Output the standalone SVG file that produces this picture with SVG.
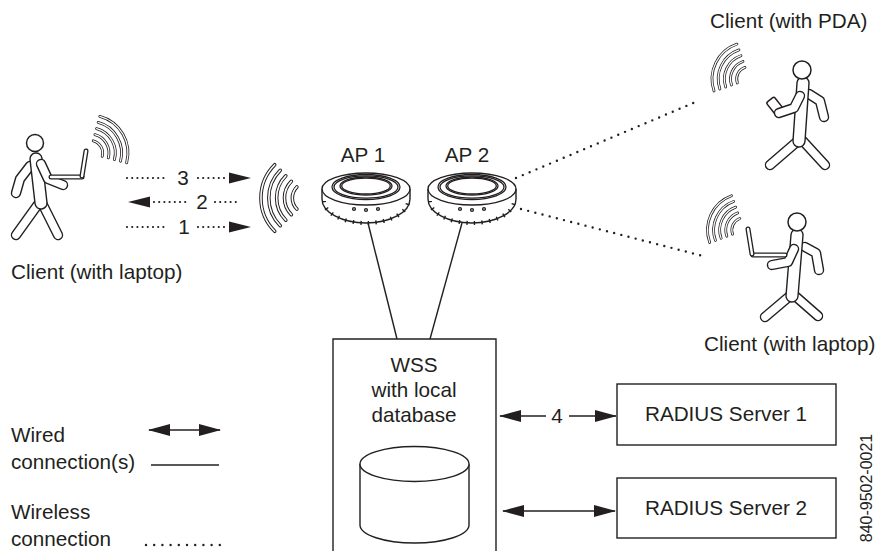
<svg xmlns="http://www.w3.org/2000/svg" xmlns:xlink="http://www.w3.org/1999/xlink" width="876" height="551" viewBox="0 0 876 551">
  <style>
    text { font-family: "Liberation Sans", Arial, Helvetica, sans-serif; font-size: 20.7px; fill: #231f20; }
    .mid { text-anchor: middle; }
    .line { stroke: #231f20; stroke-width: 1.4; fill: none; }
    .box { stroke: #231f20; stroke-width: 1.4; fill: #fff; }
    .dots { stroke: #231f20; stroke-width: 2.2; stroke-linecap: round; fill: none; stroke-dasharray: 0 5.2; }
    .wdots { stroke: #231f20; stroke-width: 2.4; stroke-linecap: round; fill: none; stroke-dasharray: 0 7.4; }
    .head { fill: #231f20; }
    .o { stroke: #231f20; stroke-width: 10.4; fill: none; stroke-linecap: round; stroke-linejoin: round; }
    .i { stroke: #fff; stroke-width: 7.6; fill: none; stroke-linecap: round; stroke-linejoin: round; }
    .ot { stroke: #231f20; stroke-width: 13.4; fill: none; stroke-linecap: round; stroke-linejoin: round; }
    .it { stroke: #fff; stroke-width: 10.6; fill: none; stroke-linecap: round; stroke-linejoin: round; }
    .ok { stroke: #231f20; stroke-width: 5; fill: none; stroke-linecap: round; }
    .ik { stroke: #fff; stroke-width: 2.4; fill: none; stroke-linecap: round; }
    .skull { fill: #fff; stroke: #231f20; stroke-width: 1.5; }
    .wave-o { stroke: #231f20; stroke-width: 3.6; fill: none; stroke-linecap: round; }
    .wave-i { stroke: #fff; stroke-width: 1.6; fill: none; stroke-linecap: round; }
    .ap { fill: #fff; stroke: #231f20; stroke-width: 1.4; }
    .apl { fill: none; stroke: #231f20; stroke-width: 1.3; }
  </style>
  <defs>
    <marker id="head" viewBox="0 0 22 12" refX="21" refY="6" markerWidth="22" markerHeight="12" markerUnits="userSpaceOnUse" orient="auto-start-reverse">
      <path class="head" d="M0,0 L22,6 L0,12 Z"/>
    </marker>
    <!-- radio waves: five banded arcs opening to the right of the origin -->
    <g id="waves">
      <g class="wave-o">
        <path d="M11.31,-11.31 A16,16 0 0 1 11.31,11.31"/>
        <path d="M16.97,-16.97 A24,24 0 0 1 16.97,16.97"/>
        <path d="M22.63,-22.63 A32,32 0 0 1 22.63,22.63"/>
        <path d="M28.28,-28.28 A40,40 0 0 1 28.28,28.28"/>
        <path d="M33.94,-33.94 A48,48 0 0 1 33.94,33.94"/>
      </g>
      <g class="wave-i">
        <path d="M11.31,-11.31 A16,16 0 0 1 11.31,11.31"/>
        <path d="M16.97,-16.97 A24,24 0 0 1 16.97,16.97"/>
        <path d="M22.63,-22.63 A32,32 0 0 1 22.63,22.63"/>
        <path d="M28.28,-28.28 A40,40 0 0 1 28.28,28.28"/>
        <path d="M33.94,-33.94 A48,48 0 0 1 33.94,33.94"/>
      </g>
    </g>
    <!-- ceiling access point puck -->
    <g id="ap-puck">
      <path class="ap" d="M-44,0 A44,16 0 0 1 44,0 L44,10 A44,24 0 0 1 -44,10 Z"/>
      <path class="apl" d="M-44,0 A44,16 0 0 0 44,0"/>
      <path d="M-42,12 A42,22 0 0 0 42,12" fill="none" stroke="#231f20" stroke-width="4" stroke-dasharray="1.4 6.2"/>
      <ellipse class="apl" cx="0" cy="-2" rx="34" ry="12.5"/>
      <ellipse class="apl" cx="0" cy="-2" rx="32" ry="11.2"/>
      <ellipse class="apl" cx="0" cy="-3" rx="26" ry="9"/>
      <ellipse class="apl" cx="0" cy="-3" rx="24.3" ry="7.9"/>
      <circle class="ap" cx="-12" cy="20" r="1.4" stroke-width="1"/>
      <circle class="ap" cx="0" cy="21" r="1.4" stroke-width="1"/>
      <circle class="ap" cx="12" cy="20" r="1.4" stroke-width="1"/>
    </g>
  </defs>

  <rect width="876" height="551" fill="#fff"/>

  <!-- connectors -->
  <g id="connectors">
    <!-- wired uplinks from the access points -->
    <path class="line" d="M368,223 L397,339"/>
    <path class="line" d="M462,223 L430,339"/>
    <!-- wireless links from AP 2 -->
    <path class="wdots" d="M516,178 L698,101"/>
    <path class="wdots" d="M521,209 L703,256"/>
    <!-- association exchange 1-3 -->
    <path class="dots" d="M127,178 L168,178"/>
    <path class="dots" d="M198,178 L225,178"/>
    <path class="head" d="M229,172.5 L251,178 L229,183.5 Z"/>
    <text class="mid" x="183" y="185">3</text>
    <path class="head" d="M150,196.5 L128,202 L150,207.5 Z"/>
    <path class="dots" d="M154,202 L190,202"/>
    <path class="dots" d="M215,202 L238,202"/>
    <text class="mid" x="202" y="209">2</text>
    <path class="dots" d="M127,227 L168,227"/>
    <path class="dots" d="M198,227 L225,227"/>
    <path class="head" d="M229,221.5 L251,227 L229,232.5 Z"/>
    <text class="mid" x="184" y="234">1</text>
    <!-- WSS to RADIUS servers -->
    <path class="line" d="M500,416 L546,416" marker-start="url(#head)"/>
    <path class="line" d="M569,416 L616,416" marker-end="url(#head)"/>
    <text class="mid" x="557" y="423">4</text>
    <path class="line" d="M503,511 L615,511" marker-start="url(#head)" marker-end="url(#head)"/>
  </g>

  <!-- client with laptop (left) -->
  <g id="client-left">
    <use xlink:href="#waves" transform="translate(90,153) rotate(-30) scale(0.79)"/>
    <path class="o" d="M30,166 L20,179 L16,193"/><path class="i" d="M30,166 L20,179 L16,193"/>
    <path class="o" d="M42,203 L58,235"/><path class="i" d="M42,203 L58,235"/>
    <path class="o" d="M39,203 L16,235"/><path class="i" d="M39,203 L16,235"/>
    <path class="ot" d="M36,159 L41,203"/><path class="it" d="M36,159 L41,203"/>
    <circle class="skull" cx="35" cy="143" r="8.5"/>
    <path class="o" d="M41,164 L48,179 L63,185"/><path class="i" d="M41,164 L48,179 L63,185"/>
    <path class="ok" d="M51,177 L82,177"/><path class="ik" d="M51,177 L82,177"/>
    <path class="ok" d="M82,176 L86,151"/><path class="ik" d="M82,176 L86,151"/>
    <text x="11" y="279">Client (with laptop)</text>
  </g>

  <!-- radio waves in front of AP 1 -->
  <g id="ap-waves">
    <use xlink:href="#waves" transform="translate(308,198) rotate(180) scale(0.98)"/>
  </g>

  <!-- access points -->
  <g id="ap1">
    <use xlink:href="#ap-puck" transform="translate(366,189)"/>
    <text class="mid" x="363" y="162">AP 1</text>
  </g>
  <g id="ap2">
    <use xlink:href="#ap-puck" transform="translate(472,189)"/>
    <text class="mid" x="467" y="162">AP 2</text>
  </g>

  <!-- client with PDA (top right) -->
  <g id="client-pda">
    <use xlink:href="#waves" transform="translate(749,79) rotate(-154) scale(0.77)"/>
    <path class="o" d="M809,94 L820,101 L824,117"/><path class="i" d="M809,94 L820,101 L824,117"/>
    <path class="o" d="M802,140 L825,165"/><path class="i" d="M802,140 L825,165"/>
    <path class="o" d="M799,140 L770,165"/><path class="i" d="M799,140 L770,165"/>
    <path class="ot" d="M803,83 L799,141"/><path class="it" d="M803,83 L799,141"/>
    <circle class="skull" cx="802" cy="70" r="9"/>
    <rect class="skull" x="-5" y="-8" width="10" height="16" rx="2" transform="translate(775,106) rotate(-38)"/>
    <path class="o" d="M800,96 L794,108 L779,113"/><path class="i" d="M800,96 L794,108 L779,113"/>
    <text x="710" y="28">Client (with PDA)</text>
  </g>

  <!-- client with laptop (right) -->
  <g id="client-right">
    <use xlink:href="#waves" transform="translate(744,230) rotate(-155) scale(0.76)"/>
    <path class="o" d="M805,247 L816,253 L819,270"/><path class="i" d="M805,247 L816,253 L819,270"/>
    <path class="o" d="M794,295 L818,316"/><path class="i" d="M794,295 L818,316"/>
    <path class="o" d="M791,295 L765,317"/><path class="i" d="M791,295 L765,317"/>
    <path class="ot" d="M797,235 L792,296"/><path class="it" d="M797,235 L792,296"/>
    <circle class="skull" cx="797" cy="222" r="9"/>
    <path class="o" d="M794,249 L788,262 L772,265"/><path class="i" d="M794,249 L788,262 L772,265"/>
    <path class="ok" d="M753,255 L785,255"/><path class="ik" d="M753,255 L785,255"/>
    <path class="ok" d="M752,254 L748,229"/><path class="ik" d="M752,254 L748,229"/>
    <text x="704" y="351">Client (with laptop)</text>
  </g>

  <!-- wireless switch with local database -->
  <g id="wss">
    <path class="line" d="M333,553 L333,339 L496,339 L496,553"/>
    <text class="mid" x="414" y="372">WSS</text>
    <text class="mid" x="414" y="397">with local</text>
    <text class="mid" x="414" y="422">database</text>
    <path class="box" d="M360,464 L360,525 A54.5,18 0 0 0 469,525 L469,464"/>
    <ellipse class="box" cx="414.5" cy="464" rx="54.5" ry="17.5"/>
  </g>

  <g id="radius1">
    <rect class="box" x="617" y="384" width="219" height="61"/>
    <text class="mid" x="726" y="421">RADIUS Server 1</text>
  </g>
  <g id="radius2">
    <rect class="box" x="617" y="478" width="219" height="60"/>
    <text class="mid" x="726" y="515">RADIUS Server 2</text>
  </g>

  <!-- legend -->
  <g id="legend">
    <text x="11" y="442">Wired</text>
    <text x="11" y="469">connection(s)</text>
    <text x="11" y="519">Wireless</text>
    <text x="11" y="546">connection</text>
    <path class="line" d="M149,430 L220,430" marker-start="url(#head)" marker-end="url(#head)"/>
    <path class="line" d="M151,465 L219,465" stroke="#555"/>
    <path class="wdots" d="M146,545 L220,545" stroke-width="2" style="stroke-dasharray:0 8.2"/>
  </g>

  <text id="figure-number" transform="translate(872,488) rotate(-90)" class="mid" style="font-size:16px">840-9502-0021</text>
</svg>
